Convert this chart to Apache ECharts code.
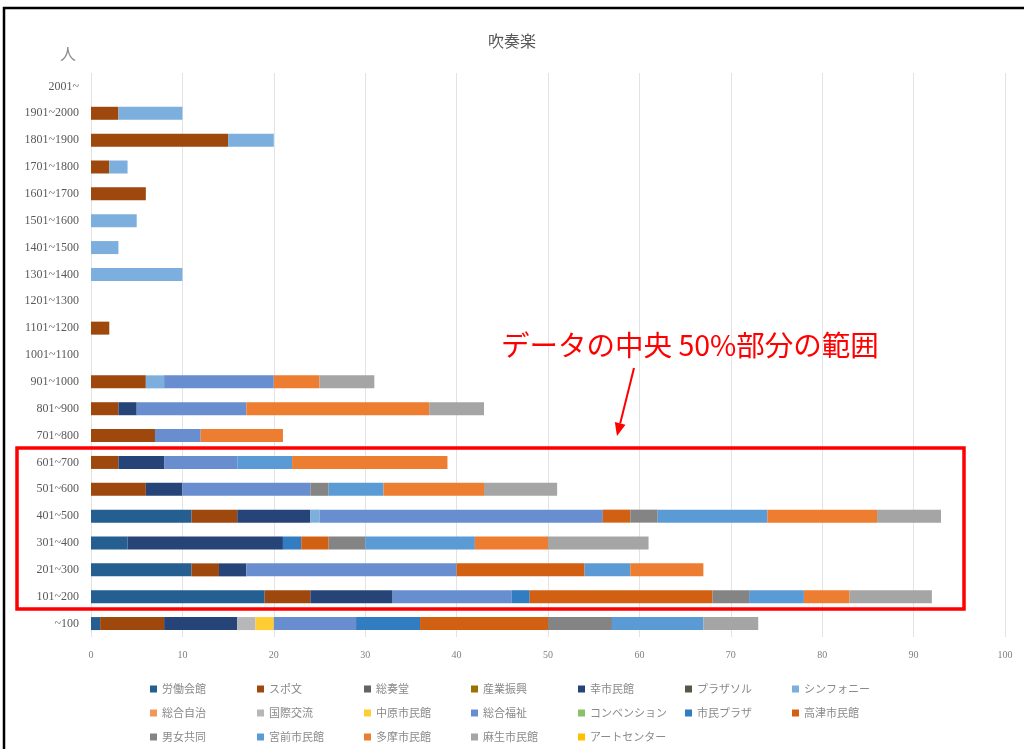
<!DOCTYPE html>
<html><head><meta charset="utf-8">
<script src="https://cdn.jsdelivr.net/npm/echarts@6/dist/echarts.min.js"></script>
<style>html,body{margin:0;padding:0;background:#fff}#c{width:1024px;height:749px}</style>
</head><body><div id="c"></div>
<script>
const categories = ['2001~','1901~2000','1801~1900','1701~1800','1601~1700','1501~1600','1401~1500','1301~1400','1201~1300','1101~1200','1001~1100','901~1000','801~900','701~800','601~700','501~600','401~500','301~400','201~300','101~200','~100'];
const xTicks = [0,10,20,30,40,50,60,70,80,90,100];
// values per hall, ordered as categories (top to bottom)
const roudouKaikan   = [0,0,0,0,0,0,0,0,0,0,0,0,0,0,0,0,11,4,11,19,1];
const supoBun        = [0,3,15,2,6,0,0,0,0,2,0,6,3,7,3,6,5,0,3,5,7];
const soukaido       = [0,0,0,0,0,0,0,0,0,0,0,0,0,0,0,0,0,0,0,0,0];
const sangyoShinko   = [0,0,0,0,0,0,0,0,0,0,0,0,0,0,0,0,0,0,0,0,0];
const saiwaiShimin   = [0,0,0,0,0,0,0,0,0,0,0,0,2,0,5,4,8,17,3,9,8];
const plazaSol       = [0,0,0,0,0,0,0,0,0,0,0,0,0,0,0,0,0,0,0,0,0];
const symphony       = [0,7,5,2,0,5,3,10,0,0,0,2,0,0,0,0,1,0,0,0,0];
const sougouJichi    = [0,0,0,0,0,0,0,0,0,0,0,0,0,0,0,0,0,0,0,0,0];
const kokusaiKoryu   = [0,0,0,0,0,0,0,0,0,0,0,0,0,0,0,0,0,0,0,0,2];
const nakaharaShimin = [0,0,0,0,0,0,0,0,0,0,0,0,0,0,0,0,0,0,0,0,2];
const sougouFukushi  = [0,0,0,0,0,0,0,0,0,0,0,12,12,5,8,14,31,0,23,13,9];
const convention     = [0,0,0,0,0,0,0,0,0,0,0,0,0,0,0,0,0,0,0,0,0];
const shiminPlaza    = [0,0,0,0,0,0,0,0,0,0,0,0,0,0,0,0,0,2,0,2,7];
const takatsuShimin  = [0,0,0,0,0,0,0,0,0,0,0,0,0,0,0,0,3,3,14,20,14];
const danjoKyodo     = [0,0,0,0,0,0,0,0,0,0,0,0,0,0,0,2,3,4,0,4,7];
const miyamaeShimin  = [0,0,0,0,0,0,0,0,0,0,0,0,0,0,6,6,12,12,5,6,10];
const tamaShimin     = [0,0,0,0,0,0,0,0,0,0,0,5,20,9,17,11,12,8,8,5,0];
const asaoShimin     = [0,0,0,0,0,0,0,0,0,0,0,6,6,0,0,8,7,11,0,9,6];
const artCenter      = [0,0,0,0,0,0,0,0,0,0,0,0,0,0,0,0,0,0,0,0,0];

const seriesDefs = [
  ['労働会館', roudouKaikan, '#255E91'],
  ['スポ文', supoBun, '#9E480E'],
  ['総奏堂', soukaido, '#636363'],
  ['産業振興', sangyoShinko, '#997300'],
  ['幸市民館', saiwaiShimin, '#264478'],
  ['プラザソル', plazaSol, '#4F5A47'],
  ['シンフォニー', symphony, '#7CAFDD'],
  ['総合自治', sougouJichi, '#F1975A'],
  ['国際交流', kokusaiKoryu, '#B7B7B7'],
  ['中原市民館', nakaharaShimin, '#FFCD33'],
  ['総合福祉', sougouFukushi, '#698ED0'],
  ['コンベンション', convention, '#8CC168'],
  ['市民プラザ', shiminPlaza, '#327DC2'],
  ['高津市民館', takatsuShimin, '#D26012'],
  ['男女共同', danjoKyodo, '#848484'],
  ['宮前市民館', miyamaeShimin, '#5B9BD5'],
  ['多摩市民館', tamaShimin, '#ED7D31'],
  ['麻生市民館', asaoShimin, '#A5A5A5'],
  ['アートセンター', artCenter, '#FFC000']
];

const chart = echarts.init(document.getElementById('c'));
const tip = [617, 436], tail = [634, 368];
const dx = tip[0]-tail[0], dy = tip[1]-tail[1], len = Math.hypot(dx, dy);
const ux = dx/len, uy = dy/len, hl = 13, hw = 5.5;
const bx = tip[0]-ux*hl, by = tip[1]-uy*hl;
chart.setOption({
  animation: false,
  textStyle: { fontFamily: '"Noto Sans CJK JP", sans-serif' },
  title: { text: '吹奏楽', left: 'center', top: 28,
    textStyle: { fontSize: 16, fontWeight: 'normal', color: '#595959', fontFamily: '"Noto Sans CJK JP", sans-serif' } },
  grid: { left: 91, right: 19, top: 73, bottom: 112, containLabel: false },
  legend: {
    left: 145, top: 677, width: 760,
    icon: 'rect', itemWidth: 7, itemHeight: 7, itemGap: 10,
    textStyle: { color: '#8a8a8a', fontSize: 11, width: 85, lineHeight: 14 },
    data: seriesDefs.map(d => d[0])
  },
  xAxis: {
    type: 'value', min: xTicks[0], max: xTicks[xTicks.length-1], interval: 10,
    axisLine: { show: false }, axisTick: { show: false },
    axisLabel: { color: '#7f7f7f', fontSize: 10, margin: 13, fontFamily: 'Liberation Serif' },
    splitLine: { lineStyle: { color: '#e3e3e3', width: 1 } }
  },
  yAxis: {
    type: 'category', inverse: true, data: categories,
    axisLine: { show: false }, axisTick: { show: false },
    axisLabel: { color: '#595959', fontSize: 12, margin: 12, fontFamily: 'Liberation Serif' }
  },
  series: seriesDefs.map(d => ({
    name: d[0], type: 'bar', stack: 'total', data: d[1], barWidth: 13,
    itemStyle: { color: d[2] }
  })),
  graphic: [
    { type: 'rect', shape: { x: 4, y: 8, width: 1040, height: 760 }, style: { fill: 'none', stroke: '#000', lineWidth: 2.5 }, z: 100 },
    { type: 'text', left: 60, top: 46, style: { text: '人', fill: '#8c8c8c', fontSize: 16, fontFamily: '"Noto Sans CJK JP", sans-serif' } },
    { type: 'rect', shape: { x: 17, y: 448, width: 947, height: 161 }, style: { fill: 'none', stroke: '#ff0000', lineWidth: 3.5 }, z: 100 },
    { type: 'text', left: 501, top: 331, style: { text: 'データの中央 50%部分の範囲', fill: '#ff0000', fontSize: 28.5, fontFamily: '"Noto Sans CJK JP", serif' }, z: 100 },
    { type: 'line', shape: { x1: tail[0], y1: tail[1], x2: bx, y2: by }, style: { stroke: '#ff0000', lineWidth: 2 }, z: 100 },
    { type: 'polygon', shape: { points: [[tip[0], tip[1]], [bx + uy*hw, by - ux*hw], [bx - uy*hw, by + ux*hw]] }, style: { fill: '#ff0000' }, z: 100 }
  ]
});
</script></body></html>
